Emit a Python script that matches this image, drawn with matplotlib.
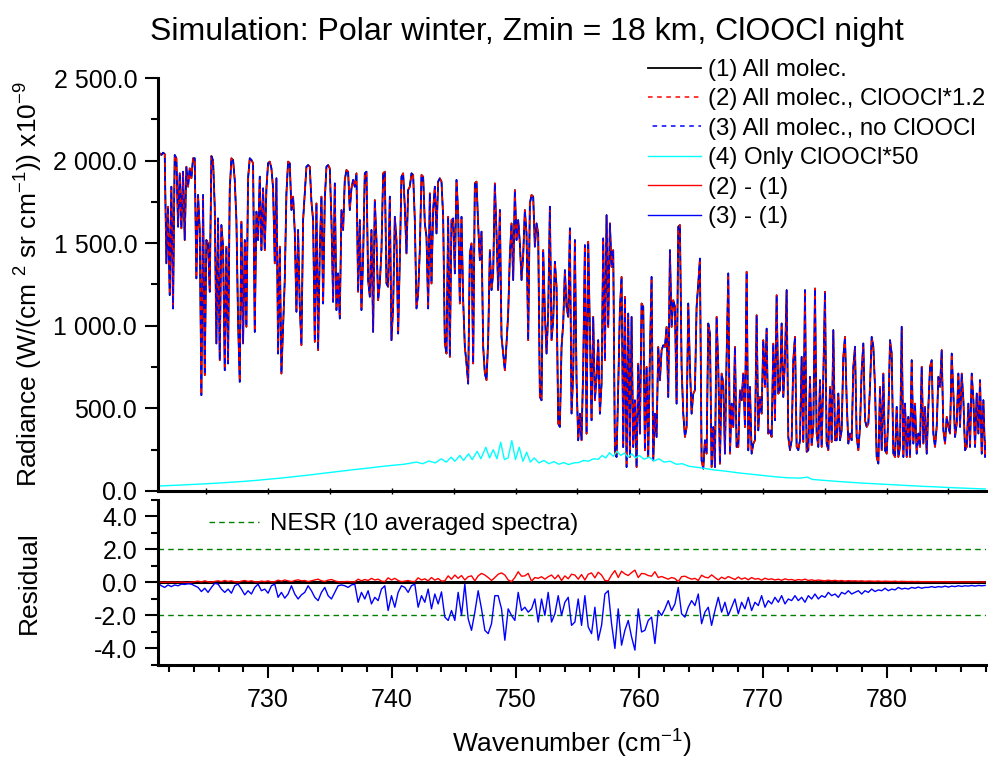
import matplotlib
matplotlib.use('Agg')
import matplotlib.pyplot as plt
import numpy as np
from matplotlib.ticker import MultipleLocator, FuncFormatter

plt.rcParams['font.family'] = ['Liberation Sans', 'DejaVu Sans']
plt.rcParams['mathtext.fontset'] = 'custom'
plt.rcParams['mathtext.rm'] = 'Liberation Sans'
plt.rcParams['mathtext.it'] = 'Liberation Sans:italic'
plt.rcParams['mathtext.default'] = 'regular'

# spectra are sampled on a regular wavenumber grid (cm-1)
WN_START = 721.1
WN_STEP = 0.1348

# (1) all molecules, radiance x1e-9 W/(cm2 sr cm-1)
rad_all = [
    2054, 2044, 2034, 2048, 2040, 1378, 1721, 1186, 1842, 1105,
    2034, 2014, 1600, 1923, 1590, 1933, 1519, 1963, 1842, 1953,
    1893, 2014, 2014, 1287, 1792, 1580, 580, 1792, 701, 1519,
    1499, 1206, 2028, 2000, 1721, 893, 1650, 792, 1610, 1479,
    731, 1479, 772, 1822, 2014, 2004, 1883, 1640, 1024, 661,
    1630, 893, 1519, 994, 1893, 2014, 2004, 1984, 963, 1691,
    1519, 1903, 1458, 1832, 1458, 1832, 1984, 1994, 1953, 1832,
    1378, 1893, 832, 1479, 711, 994, 1277, 1802, 1994, 1984,
    1701, 1782, 1570, 1085, 1580, 1115, 883, 1640, 1802, 1963,
    1973, 1963, 1751, 1640, 903, 1741, 853, 1458, 1782, 1135,
    1761, 1963, 1973, 1953, 1640, 1145, 1862, 1095, 1317, 1044,
    1701, 1580, 1883, 1943, 1933, 1701, 1832, 1883, 1842, 1923,
    1206, 1640, 1095, 1418, 1923, 1933,
    1277, 1176, 1580, 963, 1761, 1519, 1155, 1256, 1458, 1923,
    1933, 1256, 1236, 1782, 913, 1115, 1660, 1519, 953, 1398,
    1903, 1923, 1721, 1438, 1822, 1842, 1923, 1913, 1640, 1105,
    1196, 1458, 1913, 1903, 1620, 1539, 1105, 1802, 1256, 1701,
    1842, 1559, 1873, 1893, 1873, 1660, 893, 832, 1660, 812,
    1640, 1650, 1317, 1883, 1681, 1135, 1660, 1155, 873, 772,
    650, 1438, 1499, 772, 1862, 1873, 1610, 1398, 1570, 873,
    711, 671, 913, 1458, 1216, 1317, 1862, 1559, 1216, 1701,
    933, 832, 731, 893, 1075, 1428, 1620, 1277, 1822, 1519,
    1640, 1499, 1277, 1428, 1701, 1559, 913, 1741, 1792, 1782,
    1479, 1620, 1559, 570, 549, 1458, 1075, 832, 1075, 1721,
    913, 1034, 1388, 1236, 408, 388, 873, 1014, 1337, 1115,
    1054, 1590, 469, 711, 1519,
    670, 307, 468, 307, 751, 1488, 347, 1509, 953, 428,
    1054, 549, 690, 913, 468, 650, 1529, 791, 1670, 993,
    1620, 1357, 1458, 226, 206, 630, 1104, 1296, 266, 1175,
    145, 1074, 206, 1054, 266, 549, 145, 771, 347, 1135,
    1115, 246, 751, 206, 832, 1296, 185, 468, 327, 872,
    670, 852, 882, 872, 993, 569, 1458, 993, 1155, 1115,
    529, 1599, 1610, 751, 468, 327, 387, 1135, 751, 468,
    589, 610, 1115, 1256, 1407, 185, 135, 307, 226, 1014,
    953, 145, 387, 145, 1054, 751, 165, 711, 650, 226,
    812, 1317, 226, 529, 387, 872, 266, 266, 610, 549,
    711, 387, 1327, 246, 630, 226, 286, 307, 1064, 367,
    569, 468, 913, 630, 983, 347, 367, 327, 892, 428,
    1185, 589, 610, 1014, 569,
    792, 1216, 327, 247, 307, 792, 933, 267, 247, 307,
    812, 297, 1216, 237, 247, 691, 277, 388, 1226, 348,
    267, 671, 267, 691, 1206, 287, 247, 630, 297, 974,
    307, 307, 590, 307, 368, 812, 933, 550, 287, 348,
    307, 752, 873, 327, 247, 388, 731, 893, 428, 388,
    408, 630, 933, 873, 630, 206, 166, 630, 247, 711,
    247, 226, 449, 913, 832, 226, 206, 509, 206, 267,
    994, 206, 529, 206, 449, 206, 792, 287, 529, 226,
    348, 267, 752, 287, 509, 226, 509, 752, 792, 348,
    267, 388, 691, 630, 853, 368, 287, 449, 388, 348,
    832, 590, 327, 408, 711, 388, 711, 550, 247, 267,
    529, 267, 711, 550, 267, 590, 348, 671, 226, 550,
    206, 307, 206,
]

# (4) only ClOOCl * 50
wn_cyan = [
    721.1, 722, 723, 724, 725, 726, 727, 728, 729, 730,
    731, 732, 733, 734, 735, 736, 737, 738, 739, 740,
    741, 742, 742.5, 743, 743.5, 744, 744.4, 744.8, 745.1, 745.5,
    745.8, 746.2, 746.5, 746.9, 747.2, 747.6, 747.9, 748.2, 748.5, 748.8,
    749.1, 749.4, 749.7, 750.0, 750.3, 750.6, 750.9, 751.2, 751.5, 751.9,
    752.3, 752.7, 753.1, 753.5, 753.9, 754.3, 754.7, 755.1, 755.5, 755.9,
    756.3, 756.7, 757.0, 757.3, 757.6, 757.9, 758.2, 758.5, 758.8, 759.1,
    759.4, 759.7, 760.0, 760.4, 760.8, 761.2, 761.6, 762.0, 762.5, 763,
    763.5, 764, 765, 766, 767, 768, 769, 770, 771, 772,
    773, 773.6, 774, 775, 776, 777, 778, 779, 780, 781,
    782, 783, 784, 785, 786, 787, 788.1,
]
rad_cyan = [
    30, 33, 36, 40, 44, 48, 53, 58, 64, 71,
    78, 86, 94, 103, 112, 121, 130, 138, 147, 155,
    162, 175, 165, 182, 170, 195, 175, 205, 180, 215,
    185, 225, 190, 240, 195, 265, 200, 250, 195, 295,
    190, 200, 305, 190, 265, 180, 235, 175, 200, 170,
    185, 165, 178, 162, 172, 160, 170, 172, 185, 180,
    195, 192, 215, 200, 232, 210, 240, 215, 230, 205,
    225, 200, 215, 192, 205, 182, 195, 175, 180, 162,
    165, 150, 140, 128, 120, 110, 102, 94, 86, 80,
    78, 84, 70, 64, 58, 53, 48, 44, 40, 36,
    32, 28, 25, 21, 18, 15, 12,
]

# residuals, every second grid point
res_ratio = [
    0.0, 0.02, 0.0, 0.03, 0.01, 0.02, 0.0, 0.03, 0.01, 0.0, 0.02, 0.05, 0.08, 0.03, 0.1, 0.04, 0.02, 0.06, 0.1, 0.05, 0.12, 0.06, 0.1, 0.04, 0.02,
    0.08, 0.12, 0.06, 0.1, 0.04, 0.03, 0.08, 0.05, 0.1, 0.03, 0.05, 0.14, 0.08, 0.15, 0.1, 0.05, 0.12, 0.16, 0.1, 0.12, 0.05, 0.1, 0.15, 0.2, 0.1,
    0.06, 0.14, 0.18, 0.1, 0.04, 0.03, 0.05, 0.06, 0.03, 0.04, 0.2, 0.1, 0.18, 0.12, 0.25, 0.15, 0.2, 0.08, 0.05, 0.28, 0.15, 0.25, 0.12, 0.05, 0.08,
    0.12, 0.06, 0.05, 0.28, 0.15, 0.22, 0.1, 0.3, 0.14, 0.24, 0.08, 0.1, 0.4, 0.2, 0.45, 0.25, 0.42, 0.15, 0.35, 0.4, 0.1, 0.4, 0.55, 0.45, 0.3,
    0.12, 0.3, 0.5, 0.58, 0.45, 0.15, 0.05, 0.3, 0.65, 0.38, 0.4, 0.55, 0.08, 0.3, 0.25, 0.35, 0.2, 0.35, 0.45, 0.22, 0.45, 0.12, 0.4, 0.22, 0.5,
    0.45, 0.2, 0.48, 0.15, 0.5, 0.58, 0.28, 0.62, 0.45, 0.12, 0.1, 0.45, 0.72, 0.3, 0.68, 0.52, 0.42, 0.6, 0.75, 0.3, 0.55, 0.52, 0.42, 0.38, 0.65,
    0.3, 0.36, 0.28, 0.2, 0.3, 0.24, 0.05, 0.35, 0.38, 0.28, 0.2, 0.25, 0.12, 0.44, 0.32, 0.28, 0.46, 0.3, 0.15, 0.32, 0.22, 0.36, 0.27, 0.18, 0.33,
    0.2, 0.28, 0.16, 0.3, 0.2, 0.24, 0.14, 0.26, 0.18, 0.22, 0.15, 0.2, 0.13, 0.22, 0.16, 0.18, 0.12, 0.18, 0.14, 0.2, 0.12, 0.16, 0.11, 0.15, 0.12,
    0.1, 0.14, 0.1, 0.13, 0.09, 0.12, 0.08, 0.11, 0.09, 0.1, 0.08, 0.1, 0.07, 0.09, 0.08, 0.07, 0.09, 0.06, 0.08, 0.07, 0.06, 0.08, 0.05, 0.07, 0.06,
    0.05, 0.06, 0.05, 0.06, 0.04, 0.05, 0.05, 0.04, 0.05, 0.04, 0.04, 0.05, 0.04, 0.03, 0.04, 0.04, 0.03, 0.04, 0.03, 0.03, 0.04, 0.03, 0.03, 0.03,
]
res_noclo = [
    -0.05, -0.2, -0.3, -0.15, -0.25, -0.15, -0.2, -0.1, -0.12, -0.08, -0.1, -0.2, -0.3, -0.55, -0.35, -0.6, -0.3, -0.05, -0.1, -0.4, -0.6, -0.4, -0.65, -0.2, -0.1,
    -0.4, -0.75, -0.5, -0.7, -0.3, -0.1, -0.5, -0.4, -0.65, -0.2, -0.1, -0.9, -0.6, -0.95, -0.7, -0.2, -0.7, -1.0, -0.75, -0.6, -0.2, -0.5, -0.9, -1.1, -0.6,
    -0.3, -0.8, -1.0, -0.6, -0.2, -0.15, -0.2, -0.3, -0.15, -0.1, -1.2, -0.6, -1.0, -0.5, -1.3, -0.9, -1.1, -0.4, -0.2, -1.7, -0.8, -1.5, -0.6, -0.2, -0.3,
    -0.6, -0.2, -0.1, -1.5, -0.8, -1.2, -0.4, -1.6, -0.7, -1.3, -0.57, -2.1, -2.3, -1.7, -2.3, -0.6, -2.0, -0.1, -2.2, -2.9, -1.8, -0.5, -1.6, -2.9, -3.1,
    -2.5, -0.8, -0.8, -1.6, -3.5, -1.6, -2.0, -2.3, -0.6, -1.7, -1.5, -1.8, -1.6, -1.0, -2.4, -1.0, -2.0, -0.6, -2.4, -1.9, -0.8, -2.0, -1.2, -0.9, -2.6,
    -2.4, -1.0, -2.6, -0.8, -2.7, -3.1, -1.5, -3.5, -2.6, -0.7, -0.5, -2.5, -4.0, -1.6, -3.8, -2.9, -2.3, -3.3, -4.1, -1.6, -3.0, -2.9, -2.3, -2.1, -3.7,
    -1.7, -2.0, -1.6, -1.1, -1.7, -1.3, -0.3, -1.9, -2.1, -1.5, -1.1, -1.4, -0.7, -2.5, -1.8, -1.5, -2.6, -1.7, -0.9, -1.8, -1.2, -2.0, -1.5, -1.0, -1.9,
    -1.2, -1.6, -0.9, -1.7, -1.2, -1.4, -0.8, -1.5, -1.1, -1.3, -0.9, -1.2, -0.8, -1.3, -1.0, -1.1, -0.8, -1.1, -0.9, -1.2, -0.8, -1.0, -0.7, -1.0, -0.8,
    -0.9, -0.6, -0.8, -0.7, -0.9, -0.6, -0.7, -0.5, -0.7, -0.6, -0.5, -0.7, -0.5, -0.6, -0.4, -0.55, -0.45, -0.5, -0.35, -0.5, -0.4, -0.45, -0.3, -0.4, -0.35,
    -0.4, -0.3, -0.35, -0.28, -0.35, -0.3, -0.3, -0.25, -0.3, -0.25, -0.28, -0.22, -0.28, -0.22, -0.25, -0.2, -0.24, -0.2, -0.22, -0.18, -0.22, -0.18, -0.2, -0.18,
]

nesr = 2.0


def fmt_thousands(v, pos):
    return ('%.1f' % v) if abs(v) < 1000 else ('{:,.1f}'.format(v)).replace(',', ' ')


def style_axis(ax):
    for s in ['top', 'right']:
        ax.spines[s].set_visible(False)
    for s in ['left', 'bottom']:
        ax.spines[s].set_linewidth(2.2)
    ax.tick_params(which='major', length=9.5, width=1.5, labelsize=18, pad=5.5)
    ax.tick_params(which='minor', length=5, width=1.5)


wn = WN_START + WN_STEP * np.arange(len(rad_all))
wn_res = WN_START + 2 * WN_STEP * np.arange(len(res_ratio))

fig = plt.figure(figsize=(9.89, 7.61), dpi=100)
ax1 = fig.add_axes([0.1598, 0.3548, 0.8372, 0.5427])
ax2 = fig.add_axes([0.1598, 0.1262, 0.8372, 0.2168])

h1, = ax1.plot(wn, rad_all, color='k', lw=1.3, label='(1) All molec.')
h2, = ax1.plot(wn, rad_all, color='red', lw=1.1, ls=(0, (3, 3)),
               label='(2) All molec., ClOOCl*1.2')
h3, = ax1.plot(wn, rad_all, color='blue', lw=1.1, ls=(3, (3, 3)),
               label='(3) All molec., no ClOOCl')
h4, = ax1.plot(wn_cyan, rad_cyan, color='cyan', lw=1.0, label='(4) Only ClOOCl*50')

ax2.axhline(0, color='k', lw=2.2)
hn = ax2.axhline(nesr, color='green', lw=1.0, ls=(0, (4, 3)), label='NESR (10 averaged spectra)')
ax2.axhline(-nesr, color='green', lw=1.0, ls=(0, (4, 3)))
h5, = ax2.plot(wn_res, res_ratio, color='red', lw=1.0, label='(2) - (1)')
h6, = ax2.plot(wn_res, res_noclo, color='blue', lw=1.0, label='(3) - (1)')

for ax in (ax1, ax2):
    style_axis(ax)
    ax.set_xlim(721.1, 788.04)

ax1.set_ylim(0, 2500)
ax1.yaxis.set_major_locator(MultipleLocator(500))
ax1.yaxis.set_minor_locator(MultipleLocator(250))
ax1.yaxis.set_major_formatter(FuncFormatter(fmt_thousands))
ax1.xaxis.set_major_locator(MultipleLocator(5))
ax1.tick_params(axis='x', which='major', length=4, width=1.0, direction='inout',
                labelbottom=False)

ax2.set_ylim(-5, 5)
ax2.yaxis.set_major_locator(MultipleLocator(2))
ax2.yaxis.set_minor_locator(MultipleLocator(1))
ax2.yaxis.set_major_formatter(FuncFormatter(fmt_thousands))
ax2.xaxis.set_major_locator(MultipleLocator(10))
ax2.xaxis.set_minor_locator(MultipleLocator(2))
ax2.xaxis.set_major_formatter(FuncFormatter(lambda v, p: '%d' % v))
ax2.tick_params(axis='x', which='major', pad=7)

ax1.set_ylabel('Radiance (W/(cm $^{2}$ sr cm$^{-1}$)) x10$^{-9}$', fontsize=19, va='center')
ax1.yaxis.set_label_coords(-0.156, 0.5)
ax2.set_ylabel('Residual', fontsize=19, va='center')
ax2.yaxis.set_label_coords(-0.156, 0.5)
ax2.set_xlabel('Wavenumber (cm$^{-1}$)', fontsize=19, va='baseline')
ax2.xaxis.set_label_coords(0.5, -0.53)

fig.text(527 / 989, 1 - 32 / 761, 'Simulation: Polar winter, Zmin = 18 km, ClOOCl night',
         ha='center', va='center', fontsize=23)

fig.legend(handles=[h1, h2, h3, h4, h5, h6], loc='upper left',
           bbox_to_anchor=(648 / 989, 1 - 59 / 761), frameon=False, fontsize=17.3,
           handlelength=2.2, handletextpad=0.3, labelspacing=0.31,
           borderpad=0, borderaxespad=0)
fig.legend(handles=[hn], loc='upper left', bbox_to_anchor=(209 / 989, 1 - 513 / 761),
           frameon=False, fontsize=17.3, handlelength=2.1, handletextpad=0.42,
           borderpad=0, borderaxespad=0)

fig.savefig('out.png', dpi=100)
